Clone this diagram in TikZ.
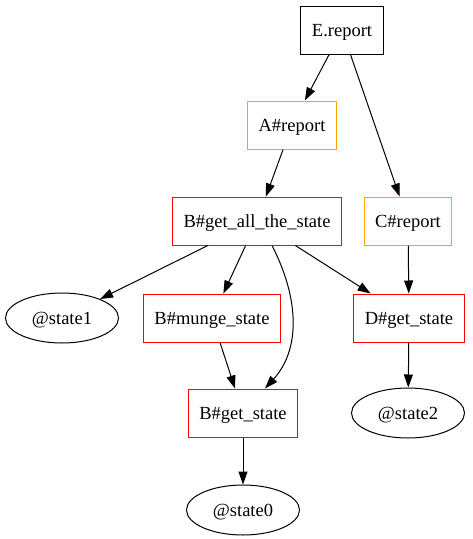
\documentclass[tikz,border=0pt]{standalone}
\definecolor{GvOrange}{RGB}{255,165,0}
\definecolor{GvRed}{RGB}{255,0,0}
\usepackage{fontspec}
\setmainfont{Liberation Serif}
\usepackage{tikz}
\usetikzlibrary{arrows.meta,shapes.geometric}

\begin{document}
\begin{tikzpicture}[x=1pt,y=-1pt,
        gvnode/.style={rectangle, draw, line width=1pt, minimum width=72pt, minimum height=48pt,
                       inner xsep=11pt, text depth=0pt, font=\fontsize{18.5}{20}\selectfont},
        topbox/.style={gvnode, draw=black},
        repbox/.style={gvnode, draw=GvOrange},
        statebox/.style={gvnode, draw=GvRed},
        ivar/.style={ellipse, draw, line width=1pt, minimum width=113pt, minimum height=50pt,
                     inner sep=0pt, text depth=0pt, font=\fontsize{18.5}{20}\selectfont},
        callarrow/.style={-{Triangle[length=13pt,width=9pt]}, line width=1pt}
      ]
        \useasboundingbox (0,0) rectangle (472,539);

        \node[topbox]   (erep)  at (342,30)  {E.report};
        \node[repbox]   (arep)  at (292,125) {A\#report};
        \node[repbox]   (crep)  at (408,221) {C\#report};
        \node[statebox] (gall)  at (257,221) {B\#get\_all\_the\_state};
        \node[ivar]     (st1)   at (62,318)  {@state1};
        \node[statebox] (munge) at (212,318) {B\#munge\_state};
        \node[statebox] (dget)  at (409,318) {D\#get\_state};
        \node[statebox] (bget)  at (243,413) {B\#get\_state};
        \node[ivar]     (st2)   at (408,413) {@state2};
        \node[ivar]     (st0)   at (243,510) {@state0};

        \draw[callarrow] (erep) -- (arep);
        \draw[callarrow] (erep) -- (crep);
        \draw[callarrow] (arep) -- (gall);
        \draw[callarrow] (crep) -- (dget);
        \draw[callarrow] (gall) -- (st1);
        \draw[callarrow] (gall) -- (munge);
        \draw[callarrow] ([xshift=15pt]gall.south) .. controls (300,300) and (300,350) .. ([xshift=22pt]bget.north);
        \draw[callarrow] (gall) -- (dget);
        \draw[callarrow] (munge) -- (bget);
        \draw[callarrow] (dget) -- (st2);
        \draw[callarrow] (bget) -- (st0);
      \end{tikzpicture}
\end{document}
